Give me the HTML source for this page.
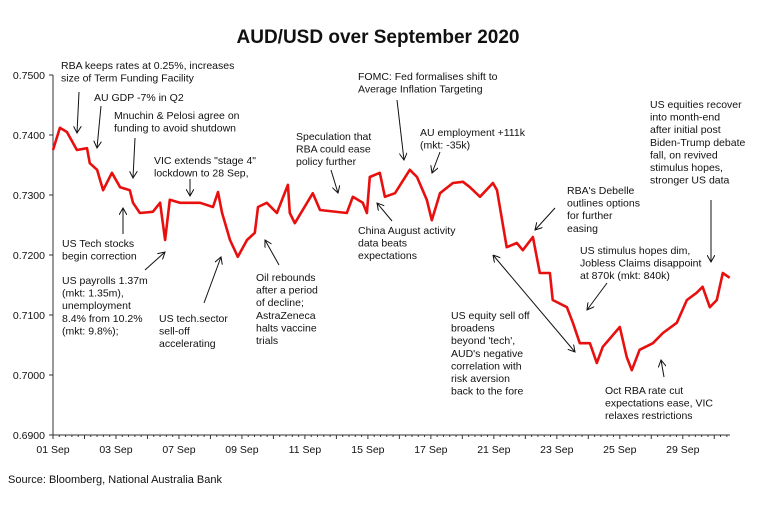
<!DOCTYPE html>
<html><head><meta charset="utf-8"><style>
body{margin:0;background:#fff;}
svg{display:block;font-family:"Liberation Sans",sans-serif;}
.ann{font-size:10.5px;fill:#111;}
</style></head><body>
<svg id="chart" width="757" height="530" viewBox="0 0 757 530">
<defs><marker id="ah" markerWidth="8" markerHeight="8" refX="7" refY="4" orient="auto" markerUnits="userSpaceOnUse"><path d="M0,0 L7,4 L0,8" fill="none" stroke="#111" stroke-width="1"/></marker>
<marker id="ahs" markerWidth="8" markerHeight="8" refX="0" refY="4" orient="auto" markerUnits="userSpaceOnUse"><path d="M7,0 L0,4 L7,8" fill="none" stroke="#111" stroke-width="1"/></marker></defs>
<text x="378" y="43" text-anchor="middle" font-size="19" font-weight="bold" fill="#111">AUD/USD over September 2020</text>
<g id="axes"></g>
<path id="line" fill="none" stroke="#e8100f" stroke-width="2.6" stroke-linejoin="round"/>
<g id="ann"></g>
<text x="8" y="483" font-size="11" fill="#111">Source: Bloomberg, National Australia Bank</text>
</svg>
<script>
const days=[0,.22,.44,.76,1.08,1.17,1.4,1.59,1.87,2.13,2.44,2.54,2.76,3.17,3.4,3.56,3.71,4.03,4.67,5.08,5.24,5.37,5.62,5.87,6.16,6.41,6.51,6.79,7.11,7.46,7.52,7.68,8.25,8.48,9.33,9.52,9.84,9.97,10.06,10.38,10.54,10.86,11.33,11.56,11.87,12.03,12.29,12.7,13.02,13.24,13.56,13.97,14.1,14.41,14.73,14.92,15.24,15.46,15.78,15.87,16.32,16.51,16.73,17.05,17.27,17.46,18,18.22,18.38,18.63,19.05,19.37,19.81,20.13,20.44,20.63,20.86,21.08,21.27,21.49];
const rates=[.7375,.7412,.7405,.7375,.7378,.7353,.7342,.7308,.7337,.7313,.7308,.7287,.727,.7272,.7287,.7225,.7292,.7287,.7287,.728,.7305,.727,.7225,.7197,.7225,.7237,.728,.7287,.727,.7317,.727,.7253,.7303,.7275,.727,.7297,.7287,.727,.733,.7337,.7297,.7303,.7342,.733,.7292,.7258,.7303,.732,.7322,.7313,.7297,.732,.7308,.7213,.722,.7208,.723,.717,.717,.7125,.7113,.7087,.7053,.7053,.702,.7047,.708,.703,.7008,.7042,.7053,.707,.7087,.7125,.7137,.7147,.7113,.7125,.717,.7162];
const xLabels=["01 Sep","03 Sep","07 Sep","09 Sep","11 Sep","15 Sep","17 Sep","21 Sep","23 Sep","25 Sep","29 Sep"];
const yTicks=[0.69,0.70,0.71,0.72,0.73,0.74,0.75];
const X0=53,X1=730,DAYS=21.5,Y0=435,YT=75;
const xs=d=>X0+d*(X1-X0)/DAYS;
const ys=v=>Y0-(v-0.69)*(Y0-YT)/0.06;
const NS="http://www.w3.org/2000/svg";
const ax=document.getElementById('axes');
function mk(t,a,p){const e=document.createElementNS(NS,t);for(const k in a)e.setAttribute(k,a[k]);(p||ax).appendChild(e);return e;}
const yl=mk('line',{x1:X0,y1:YT,x2:X0,y2:Y0,stroke:'#333','stroke-width':1});


const xl=mk('line',{x1:X0,y1:Y0,x2:X1,y2:Y0,stroke:'#333','stroke-width':1});


yTicks.forEach(v=>{mk('line',{x1:X0-4,x2:X0,y1:ys(v),y2:ys(v),stroke:'#333'});
const t=mk('text',{x:X0-8,y:ys(v)+4,'text-anchor':'end','font-size':10.5,fill:'#111'});


t.textContent=v.toFixed(4);});
for(let i=0;i<=DAYS*5;i++){const x=xs(i/5);mk('line',{x1:x,x2:x,y1:Y0,y2:Y0+(i%5?2:4),stroke:'#333'});}
xLabels.forEach((l,i)=>{const t=mk('text',{x:xs(i*2),y:Y0+18,'text-anchor':'middle','font-size':10.5,fill:'#111'});


t.textContent=l;});
document.getElementById('line').setAttribute('d',days.map((d,i)=>(i?'L':'M')+xs(d).toFixed(1)+','+ys(rates[i]).toFixed(1)).join(''));
const ag=document.getElementById('ann');
const notes=[
[61,65,["RBA keeps rates at 0.25%, increases","size of Term Funding Facility"]],
[94,97,["AU GDP -7% in Q2"]],
[114,115,["Mnuchin & Pelosi agree on","funding to avoid shutdown"]],
[154,160,["VIC extends \"stage 4\"","lockdown to 28 Sep,"]],
[296,136,["Speculation that","RBA could ease","policy further"]],
[358,76,["FOMC: Fed formalises shift to","Average Inflation Targeting"]],
[420,132,["AU employment +111k","(mkt: -35k)"]],
[650,104,["US equities recover","into month-end","after initial post","Biden-Trump debate","fall, on revived","stimulus hopes,","stronger US data"]],
[567,190,["RBA's Debelle","outlines options","for further","easing"]],
[358,230,["China August activity","data beats","expectations"]],
[580,250,["US stimulus hopes dim,","Jobless Claims disappoint","at 870k (mkt: 840k)"]],
[62,243,["US Tech stocks","begin correction"]],
[62,280,["US payrolls 1.37m","(mkt: 1.35m),","unemployment","8.4% from 10.2%","(mkt: 9.8%);"]],
[159,318,["US tech.sector","sell-off","accelerating"]],
[256,277,["Oil rebounds","after a period","of decline;","AstraZeneca","halts vaccine","trials"]],
[451,315,["US equity sell off","broadens","beyond 'tech',","AUD's negative","correlation with","risk aversion","back to the fore"]],
[605,390,["Oct RBA rate cut","expectations ease, VIC","relaxes restrictions"]]];
notes.forEach(n=>{const t=mk('text',{x:n[0],y:n[1]+4,class:'ann'},ag);


n[2].forEach((s,i)=>{const ts=mk('tspan',{x:n[0],dy:i?12.6:0},t);ts.textContent=s;});});
const arrows=[[79,92,77,133],[101,106,97,148],[135,138,133,178],[190,179,190,196],[331,170,338,193],[397,100,404,160],[440,152,432,173],[123,234,123,208],[145,270,165,252],[204,303,221,257],[279,265,265,240],[392,221,377,203],[555,208,535,230],[607,283,587,310],[711,200,711,262],[664,377,661,360]];
arrows.forEach(a=>{const l=mk('line',{x1:a[0],y1:a[1],x2:a[2],y2:a[3],stroke:'#111','stroke-width':1,'marker-end':'url(#ah)'},ag);

});
const d=mk('line',{x1:493,y1:255,x2:575,y2:352,stroke:'#111','stroke-width':1,'marker-end':'url(#ah)','marker-start':'url(#ahs)'},ag);


</script>
</body></html>
